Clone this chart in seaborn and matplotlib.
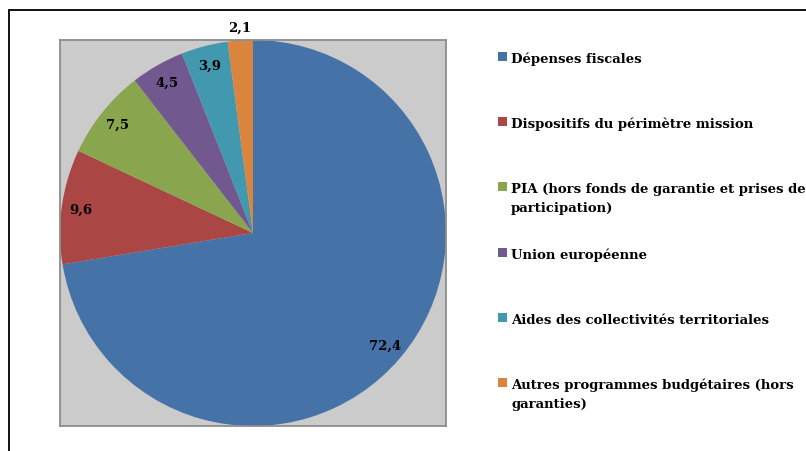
import numpy as np
import matplotlib
matplotlib.use("Agg")
import matplotlib.pyplot as plt
import matplotlib.patches as mpatches
import seaborn as sns

# données (en %)
categories = [
    "Dépenses fiscales",
    "Dispositifs du périmètre mission",
    "PIA (hors fonds de garantie et prises de\nparticipation)",
    "Union européenne",
    "Aides des collectivités territoriales",
    "Autres programmes budgétaires (hors\ngaranties)",
]
values = [72.4, 9.6, 7.5, 4.5, 3.9, 2.1]
value_labels = ["72,4", "9,6", "7,5", "4,5", "3,9", "2,1"]

colors = sns.color_palette(["#4572A7", "#AA4643", "#89A54E", "#71588F", "#4198AF", "#DB843D"])
label_dist = [0.9, 0.9, 0.9, 0.9, 0.9, 1.07]

sns.set_style("white")
plt.rcParams["font.family"] = ["DejaVu Serif"]
FS = 9.5

fig = plt.figure(figsize=(8.06, 4.52), dpi=100)

# cadre extérieur
fig.patches.append(mpatches.Rectangle((9 / 806, -0.1), 1.2, 0.1 + (452 - 11) / 452,
                                      transform=fig.transFigure, fill=False,
                                      edgecolor="#111111", linewidth=1.4))

ax = fig.add_axes([60 / 806, 25 / 452, 386 / 806, 386 / 452])
wedges, _ = ax.pie(values, colors=colors, startangle=90, counterclock=False,
                   radius=1.0, wedgeprops=dict(linewidth=0))
ax.set_frame_on(True)
ax.set_facecolor("#CBCBCB")
for s in ax.spines.values():
    s.set_visible(True)
    s.set_color("#8C8C8C")
    s.set_linewidth(1.3)
ax.set_xlim(-1, 1)
ax.set_ylim(-1, 1)
ax.set_aspect("equal")
ax.set_xticks([])
ax.set_yticks([])

for w, lab, d in zip(wedges, value_labels, label_dist):
    ang = np.deg2rad((w.theta1 + w.theta2) / 2)
    ax.text(d * np.cos(ang), d * np.sin(ang), lab, ha="center", va="center",
            fontsize=FS, fontweight="bold", color="black", clip_on=False)

# légende
y0 = 452 - 63
step = 65.2
line_h = 19
for i, (cat, col) in enumerate(zip(categories, colors)):
    yb = y0 - i * step
    fig.patches.append(mpatches.Rectangle((498 / 806, (yb + 1) / 452), 9 / 806, 9 / 452,
                                          transform=fig.transFigure, facecolor=col,
                                          edgecolor="none"))
    for k, line in enumerate(cat.split("\n")):
        fig.text(511 / 806, (yb - k * line_h) / 452, line, ha="left", va="baseline",
                 fontsize=FS, fontweight="bold", color="black")

fig.savefig("out.png", dpi=100)
